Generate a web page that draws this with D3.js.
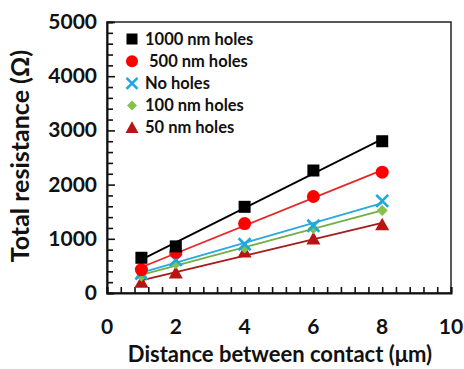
<!DOCTYPE html>
<html>
<head>
<meta charset="utf-8">
<script src="https://cdn.jsdelivr.net/npm/d3@7"></script>
<style>
  body { margin: 0; background: #fff; }
  text { font-family: Lato, "Open Sans", sans-serif; font-weight: bold; fill: #111; }
</style>
</head>
<body>
<div id="chart"></div>
<script>
/* datos */
const distances = [1, 2, 4, 6, 8];
const seriesNames = ["1000 nm holes", " 500 nm holes", "No holes", "100 nm holes", "50 nm holes"];
const r1000 = [650, 860, 1590, 2260, 2800];
const r500 = [430, 750, 1280, 1780, 2230];
const rNone = [360, 610, 900, 1240, 1700];
const r100 = [310, 540, 830, 1190, 1520];
const r50 = [200, 370, 760, 1000, 1260];
const xTicks = [0, 2, 4, 6, 8, 10];
const yTicks = [0, 1000, 2000, 3000, 4000, 5000];

const W = 464, H = 369;
const M = { top: 22, right: 13, bottom: 76, left: 107 };

const styles = [
  { pt: "#000000", line: "#000000", shape: "square" },
  { pt: "#ff0000", line: "#e8262a", shape: "circle" },
  { pt: "#1ea7e1", line: "#27aae1", shape: "cross" },
  { pt: "#86c24a", line: "#73ae47", shape: "diamond" },
  { pt: "#b81414", line: "#a51c1c", shape: "triangle" }
];
const values = [r1000, r500, rNone, r100, r50];

const svg = d3.select("#chart").append("svg").attr("width", W).attr("height", H);

const x = d3.scaleLinear().domain([0, 10]).range([M.left, W - M.right]);
const y = d3.scaleLinear().domain([0, 5000]).range([H - M.bottom, M.top]);

// marco
svg.append("rect")
  .attr("x", M.left).attr("y", M.top)
  .attr("width", W - M.right - M.left).attr("height", H - M.bottom - M.top)
  .attr("fill", "none").attr("stroke", "#222").attr("stroke-width", 1.5);

// ticks menores hacia adentro
const gx = svg.append("g").attr("transform", `translate(0,${H - M.bottom})`);
gx.call(d3.axisBottom(x).tickValues(d3.range(0, 10.01, 0.4)).tickSize(-6).tickFormat(""))
  .call(g => g.select(".domain").attr("stroke-width", 2).attr("stroke", "#111"));
gx.selectAll(".tick line").attr("stroke", "#111").attr("stroke-width", 1.6);

const gy = svg.append("g").attr("transform", `translate(${M.left},0)`);
gy.call(d3.axisLeft(y).tickValues(d3.range(0, 5001, 200)).tickSize(-6).tickFormat(""))
  .call(g => g.select(".domain").attr("stroke-width", 2).attr("stroke", "#111"));
gy.selectAll(".tick line").attr("stroke", "#111").attr("stroke-width", 1.6)
  .attr("x2", d => d % 1000 === 0 ? 8 : 6);

// etiquetas de ticks
svg.append("g").selectAll("text").data(xTicks).join("text")
  .attr("x", d => x(d)).attr("y", 334)
  .attr("text-anchor", "middle").attr("font-size", 21)
  .text(d => d);
svg.append("g").selectAll("text").data(yTicks).join("text")
  .attr("x", 97).attr("y", d => y(d) + 7)
  .attr("text-anchor", "end").attr("font-size", 21)
  .text(d => d);

// titulos de ejes
svg.append("text")
  .attr("x", 280).attr("y", 362)
  .attr("text-anchor", "middle").attr("font-size", 22)
  .text("Distance between contact (μm)");
svg.append("text")
  .attr("transform", "translate(29,156) rotate(-90)")
  .attr("text-anchor", "middle").attr("font-size", 25)
  .text("Total resistance (Ω)");

// lineas de ajuste
function fit(vals) {
  const mx = d3.mean(distances), my = d3.mean(vals);
  const b = d3.sum(distances, (d, i) => (d - mx) * (vals[i] - my)) / d3.sum(distances, d => (d - mx) ** 2);
  return [b, my - b * mx];
}

function drawMarker(g, shape, color, cx, cy, s) {
  if (shape === "square") {
    g.append("rect").attr("x", cx - s / 2).attr("y", cy - s / 2).attr("width", s).attr("height", s).attr("fill", color);
  } else if (shape === "circle") {
    g.append("circle").attr("cx", cx).attr("cy", cy).attr("r", s / 2).attr("fill", color);
  } else if (shape === "cross") {
    const h = s / 2 - 1;
    g.append("path").attr("d", `M${cx - h},${cy - h}L${cx + h},${cy + h}M${cx - h},${cy + h}L${cx + h},${cy - h}`)
      .attr("stroke", color).attr("stroke-width", 2.6).attr("fill", "none");
  } else if (shape === "diamond") {
    const h = s / 2;
    g.append("path").attr("d", `M${cx},${cy - h}L${cx + h},${cy}L${cx},${cy + h}L${cx - h},${cy}Z`).attr("fill", color);
  } else {
    const h = s / 2;
    g.append("path").attr("d", `M${cx},${cy - h}L${cx + h},${cy + h * 0.8}L${cx - h},${cy + h * 0.8}Z`).attr("fill", color);
  }
}

const sizes = { square: 12, circle: 13, cross: 14, diamond: 11, triangle: 14 };

values.forEach((vals, i) => {
  const [b, a] = fit(vals);
  svg.append("line")
    .attr("x1", x(1)).attr("y1", y(a + b * 1))
    .attr("x2", x(8)).attr("y2", y(a + b * 8))
    .attr("stroke", styles[i].line).attr("stroke-width", 1.8);
});
for (let i = values.length - 1; i >= 0; i--) {
  const g = svg.append("g");
  values[i].forEach((v, j) => drawMarker(g, styles[i].shape, styles[i].pt, x(distances[j]), y(v), sizes[styles[i].shape]));
}

// leyenda
const leg = svg.append("g");
seriesNames.forEach((name, i) => {
  const ly = 39 + i * 22.2;
  drawMarker(leg, styles[i].shape, styles[i].pt, 132, ly, sizes[styles[i].shape] - 1);
  leg.append("text").attr("x", 145).attr("y", ly + 5.5).attr("font-size", 16.5)
    .attr("xml:space", "preserve").style("white-space", "pre").text(name);
});
</script>
</body>
</html>
